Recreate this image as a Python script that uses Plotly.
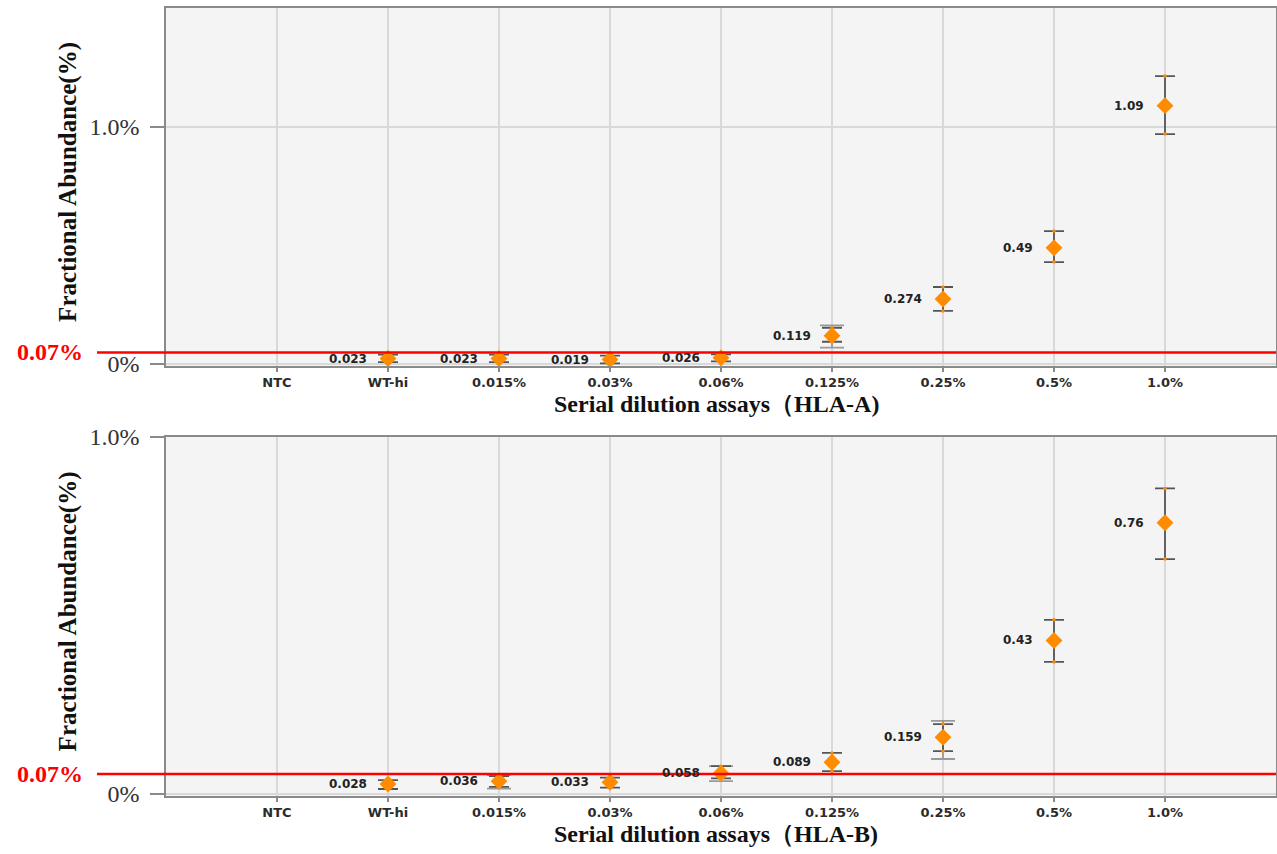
import plotly.graph_objects as go

# ---------------- data ----------------
categories = ["NTC", "WT-hi", "0.015%", "0.03%", "0.06%", "0.125%", "0.25%", "0.5%", "1.0%"]

# HLA-A panel
a_vals = [None, 0.023, 0.023, 0.019, 0.026, 0.119, 0.274, 0.49, 1.09]
a_labels = ["", "0.023", "0.023", "0.019", "0.026", "0.119", "0.274", "0.49", "1.09"]
a_err_plus = [None, 0.017, 0.017, 0.016, 0.015, 0.034, 0.051, 0.071, 0.125]
a_err_minus = [None, 0.015, 0.015, 0.016, 0.015, 0.025, 0.050, 0.060, 0.120]
a_outer_plus = [None, None, None, None, None, 0.044, None, None, None]
a_outer_minus = [None, None, None, None, None, 0.050, None, None, None]

# HLA-B panel
b_vals = [None, 0.028, 0.036, 0.033, 0.058, 0.089, 0.159, 0.43, 0.76]
b_labels = ["", "0.028", "0.036", "0.033", "0.058", "0.089", "0.159", "0.43", "0.76"]
b_err_plus = [None, 0.011, 0.014, 0.013, 0.020, 0.026, 0.037, 0.058, 0.096]
b_err_minus = [None, 0.014, 0.016, 0.015, 0.014, 0.025, 0.039, 0.060, 0.102]
b_outer_plus = [None, None, 0.017, None, 0.020, None, 0.046, None, None]
b_outer_minus = [None, None, 0.021, None, 0.022, None, 0.061, None, None]

threshold_label = "0.07%"
a_threshold_line = 0.049   # drawn position
b_threshold_line = 0.056

y_ticks = [0, 1.0]
y_ticktext = ["0%", "1.0%"]

x_titles = ["Serial dilution assays（HLA-A)", "Serial dilution assays（HLA-B)"]
y_title = "Fractional Abundance(%)"

# ---------------- style ----------------
W, H = 1277, 854
ML, MR = 166, 1
ORANGE = "#FF8C00"
DARK_ERR = "#555555"
LIGHT_ERR = "#9a9a9a"
AXIS = "#8a8a8a"
GRID = "#d9d9d9"
SERIF = "Liberation Serif, Times New Roman, serif"
SANS = "DejaVu Sans, Verdana, sans-serif"

dom_a = [(H - 366) / H, (H - 8) / H]
dom_b = [(H - 796) / H, (H - 437) / H]
range_a = [-0.0084, 1.502]
range_b = [-0.0056, 1.0]
x_range = [-1, 9]

fig = go.Figure()


def add_panel(xa, ya, vals, labels, ep, em, op, om):
    idx = [i for i, v in enumerate(vals) if v is not None]
    xs = [categories[i] for i in idx]
    ys = [vals[i] for i in idx]
    # outer (light) error bars
    oidx = [i for i in idx if op[i] is not None]
    if oidx:
        fig.add_trace(go.Scatter(
            x=[categories[i] for i in oidx], y=[vals[i] for i in oidx],
            mode="markers", marker=dict(size=1, color="rgba(0,0,0,0)"),
            error_y=dict(type="data", symmetric=False,
                         array=[op[i] for i in oidx], arrayminus=[om[i] for i in oidx],
                         color=LIGHT_ERR, thickness=1.8, width=12),
            xaxis=xa, yaxis=ya, showlegend=False, hoverinfo="skip"))
    # inner error bars + diamonds
    fig.add_trace(go.Scatter(
        x=xs, y=ys, mode="markers",
        marker=dict(symbol="diamond", size=13, color=ORANGE, line=dict(width=0)),
        error_y=dict(type="data", symmetric=False,
                     array=[ep[i] for i in idx], arrayminus=[em[i] for i in idx],
                     color=DARK_ERR, thickness=1.8, width=10),
        xaxis=xa, yaxis=ya, showlegend=False))
    # small orange dots at error-bar ends
    fig.add_trace(go.Scatter(
        x=xs + xs,
        y=[vals[i] + ep[i] for i in idx] + [vals[i] - em[i] for i in idx],
        mode="markers", marker=dict(size=3.5, color=ORANGE),
        xaxis=xa, yaxis=ya, showlegend=False, hoverinfo="skip"))
    # value labels
    for i in idx:
        fig.add_annotation(x=categories[i], y=vals[i], xref=xa, yref=ya,
                           text=labels[i], showarrow=False, xanchor="right",
                           xshift=-19,
                           font=dict(family=SANS, size=12, color="#222222", weight="bold"))


add_panel("x", "y", a_vals, a_labels, a_err_plus, a_err_minus, a_outer_plus, a_outer_minus)
add_panel("x2", "y2", b_vals, b_labels, b_err_plus, b_err_minus, b_outer_plus, b_outer_minus)

xcommon = dict(type="category", categoryorder="array", categoryarray=categories,
               range=x_range, showgrid=True, gridcolor=GRID, gridwidth=1.5,
               showline=True, linecolor=AXIS, linewidth=1.5, mirror=True,
               ticks="outside", ticklen=4, tickcolor=AXIS, tickwidth=1.5,
               tickfont=dict(family=SANS, size=13, color="#2b2b2b", weight="bold"),
               zeroline=False, fixedrange=True, automargin=False)
ycommon = dict(tickvals=y_ticks, ticktext=y_ticktext, showgrid=True, gridcolor=GRID,
               gridwidth=1.5, showline=True, linecolor=AXIS, linewidth=1.5, mirror=True,
               ticks="outside", ticklen=14, tickcolor=AXIS, tickwidth=1.5,
               ticklabelstandoff=6,
               tickfont=dict(family=SERIF, size=24, color="#333333"),
               zeroline=False, fixedrange=True, automargin=False)

fig.update_layout(
    width=W, height=H,
    margin=dict(l=ML, r=MR, t=0, b=0, autoexpand=False),
    paper_bgcolor="white", plot_bgcolor="#f4f4f4",
    xaxis=dict(xcommon, domain=[0, 1], anchor="y"),
    yaxis=dict(ycommon, domain=dom_a, range=range_a, anchor="x"),
    xaxis2=dict(xcommon, domain=[0, 1], anchor="y2"),
    yaxis2=dict(ycommon, domain=dom_b, range=range_b, anchor="x2"),
    showlegend=False,
)

pw = W - ML - MR


def px_to_paper_x(px):
    return (px - ML) / pw


def val_to_paper_y(v, dom, rng):
    return dom[0] + (v - rng[0]) / (rng[1] - rng[0]) * (dom[1] - dom[0])


for line_v, dom, rng, xt in [(a_threshold_line, dom_a, range_a, x_titles[0]),
                              (b_threshold_line, dom_b, range_b, x_titles[1])]:
    yp = val_to_paper_y(line_v, dom, rng)
    fig.add_shape(type="line", xref="paper", yref="paper",
                  x0=px_to_paper_x(97), x1=1, y0=yp, y1=yp,
                  line=dict(color="#ff0000", width=2.5), layer="above")
    fig.add_annotation(xref="paper", yref="paper", x=px_to_paper_x(85), y=yp,
                       xanchor="right", yanchor="middle", showarrow=False,
                       text=threshold_label,
                       font=dict(family=SERIF, size=24, color="#ff0000", weight="bold"))
    # y-axis title
    fig.add_annotation(xref="paper", yref="paper", x=px_to_paper_x(68),
                       y=(dom[0] + dom[1]) / 2 + 0.006, textangle=-90,
                       xanchor="center", yanchor="middle", showarrow=False,
                       text=y_title,
                       font=dict(family=SERIF, size=25, color="#111111", weight="bold"))
    # x-axis title
    fig.add_annotation(xref="paper", yref="paper", x=px_to_paper_x(716),
                       y=dom[0] - 38 / H, xanchor="center", yanchor="middle",
                       showarrow=False, text=xt,
                       font=dict(family=SERIF, size=24, color="#111111", weight="bold"))

fig.write_html(
    "out.html",
    config={"displayModeBar": False},
    post_script="document.body.style.margin='0';document.body.style.overflow='hidden';",
)
